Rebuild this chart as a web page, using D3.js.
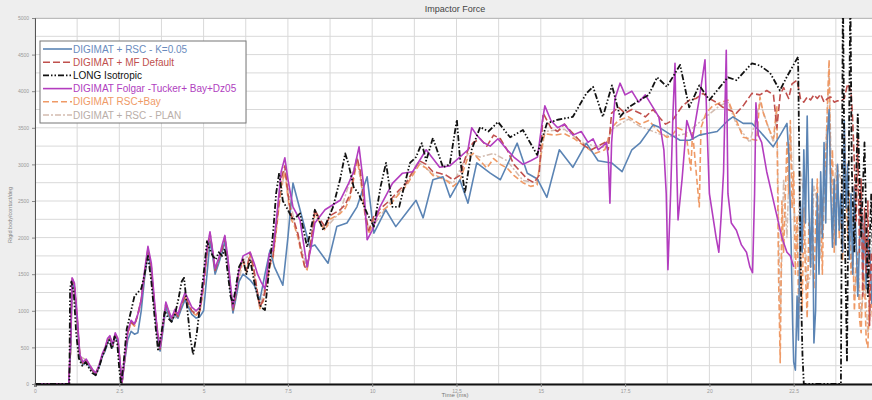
<!DOCTYPE html>
<html><head><meta charset="utf-8">
<script src="https://cdn.jsdelivr.net/npm/d3@7"></script>
<style>body{margin:0;background:#eeeeee}svg{display:block}</style>
</head><body>
<svg id="c" width="872" height="400"></svg>
<script>
const chartTitle = "Impactor Force";
const xTitle = "Time (ms)";
const yTitle = "Rigid body/contact/deg";
const xTicks = [0, 2.5, 5, 7.5, 10, 12.5, 15, 17.5, 20, 22.5];
const yTicks = [0, 500, 1000, 1500, 2000, 2500, 3000, 3500, 4000, 4500, 5000];
const seriesNames = ["DIGIMAT + RSC - K=0.05", "DIGIMAT + MF Default", "LONG Isotropic",
  "DIGIMAT Folgar -Tucker+ Bay+Dz05", "DIGIMAT RSC+Bay", "DIGIMAT + RSC - PLAN"];

const rscK005 = [[0,0],[1.0,0],[1.06,500],[1.1,1400],[1.17,1300],[1.25,850],[1.33,350],[1.42,260],[1.52,300],[1.62,230],[1.72,170],[1.8,120],[1.9,230],[2.0,380],[2.08,450],[2.15,560],[2.22,620],[2.3,500],[2.38,650],[2.46,580],[2.53,230],[2.58,10],[2.65,280],[2.75,600],[2.85,720],[2.95,680],[3.05,700],[3.15,1000],[3.25,1450],[3.35,1800],[3.45,1550],[3.55,1000],[3.63,650],[3.71,450],[3.8,750],[3.88,1050],[3.95,950],[4.05,850],[4.15,950],[4.24,900],[4.32,1000],[4.45,1150],[4.55,1050],[4.65,950],[4.78,900],[4.89,920],[5.0,1000],[5.1,1500],[5.19,1950],[5.27,1750],[5.34,1500],[5.45,1650],[5.55,1800],[5.63,1950],[5.72,1650],[5.8,1250],[5.87,970],[5.95,1150],[6.05,1400],[6.17,1500],[6.38,1420],[6.5,1350],[6.67,1150],[6.82,1500],[6.97,1830],[7.1,1600],[7.35,1350],[7.5,2000],[7.65,2745],[7.86,2380],[8.15,1870],[8.3,1900],[8.69,1650],[8.95,2150],[9.25,2200],[9.55,2420],[9.85,2830],[10.05,2060],[10.4,2380],[10.7,2150],[11.0,2330],[11.3,2510],[11.51,2270],[11.8,2790],[12.1,2830],[12.31,2550],[12.6,2790],[12.84,2470],[13.1,3020],[13.5,2880],[13.8,2790],[14.3,3290],[14.6,2880],[14.9,2800],[15.18,2550],[15.55,3200],[15.95,2960],[16.35,3290],[16.7,3050],[17.1,3020],[17.41,2900],[17.7,3200],[17.94,3290],[18.33,3540],[18.5,3510],[18.8,3420],[19.13,3330],[19.42,3330],[19.7,3400],[20.0,3430],[20.23,3450],[20.55,3600],[20.7,3650],[21.0,3560],[21.26,3560],[21.5,3450],[21.89,3240],[22.1,3400],[22.3,3560],[22.36,3100],[22.42,2000],[22.47,800],[22.5,300],[22.55,190],[22.6,1200],[22.64,600],[22.7,2500],[22.75,1800],[22.8,3200],[22.85,2200],[22.9,3660],[22.95,2400],[23.0,1600],[23.05,2800],[23.1,560],[23.15,1010],[23.2,2600],[23.25,1500],[23.3,2900],[23.35,2000],[23.4,3300],[23.45,2200],[23.5,3400],[23.55,3750],[23.6,2600],[23.65,1870],[23.7,2800],[23.75,1900],[23.8,3000],[23.85,2100],[23.9,2600],[23.95,1800],[24.0,3600],[24.05,2400],[24.1,3000],[24.15,1700],[24.2,2600],[24.25,1500],[24.3,2700],[24.35,2000],[24.4,1200],[24.45,1900],[24.5,2600],[24.55,1500],[24.6,2300],[24.65,1300],[24.7,2000],[24.76,1790],[24.82,1100],[24.9,1900],[25,1500]];

const mfDefault = [[0,0],[1.0,0],[1.05,500],[1.1,1450],[1.17,1350],[1.25,900],[1.33,380],[1.42,280],[1.52,330],[1.62,250],[1.72,180],[1.8,130],[1.9,250],[2.0,400],[2.08,480],[2.15,600],[2.22,650],[2.3,520],[2.38,680],[2.46,600],[2.53,250],[2.58,20],[2.65,300],[2.75,700],[2.85,850],[2.95,800],[3.05,950],[3.15,1150],[3.25,1500],[3.35,1850],[3.45,1600],[3.55,1050],[3.63,700],[3.71,480],[3.8,800],[3.88,1100],[3.95,1000],[4.05,880],[4.15,1000],[4.24,920],[4.32,1050],[4.45,1200],[4.55,1100],[4.65,1000],[4.78,950],[4.89,1000],[5.0,1350],[5.1,1800],[5.19,2060],[5.27,1800],[5.34,1550],[5.45,1700],[5.55,1850],[5.63,2010],[5.72,1700],[5.8,1300],[5.87,1000],[5.95,1200],[6.05,1550],[6.17,1700],[6.27,1550],[6.38,1800],[6.48,1600],[6.58,1300],[6.67,1050],[6.77,1150],[6.87,1400],[6.97,1650],[7.06,1750],[7.17,2200],[7.3,2800],[7.41,2980],[7.5,2600],[7.6,2300],[7.7,2200],[7.8,2050],[7.9,1800],[8.0,1600],[8.07,1580],[8.2,2000],[8.3,2380],[8.45,2250],[8.6,2150],[8.75,2300],[9.05,2380],[9.2,2450],[9.35,2600],[9.55,3100],[9.65,2900],[9.8,2300],[9.9,2100],[10.05,2300],[10.25,2400],[10.53,2510],[10.8,2650],[11.0,2740],[11.2,2900],[11.4,3050],[11.6,3000],[11.8,2900],[12.0,2880],[12.2,2850],[12.4,2790],[12.6,2850],[12.84,3200],[13.0,3300],[13.2,3350],[13.4,3250],[13.6,3400],[13.8,3350],[14.0,3200],[14.2,3000],[14.4,2900],[14.6,2800],[14.8,2750],[14.95,2850],[15.07,3700],[15.3,3500],[15.5,3450],[15.7,3550],[15.9,3450],[16.1,3350],[16.3,3250],[16.5,3200],[16.7,3250],[16.9,3300],[17.0,3200],[17.1,3700],[17.3,3780],[17.5,3700],[17.7,3750],[17.94,3700],[18.1,3650],[18.33,3750],[18.5,3650],[18.7,3550],[18.9,3600],[19.05,3700],[19.2,3800],[19.42,3880],[19.6,3900],[19.81,3970],[20.0,3900],[20.2,3850],[20.4,3780],[20.6,3740],[20.8,3700],[21.0,3800],[21.26,3970],[21.5,3950],[21.7,4010],[21.9,3950],[22.0,3500],[22.1,3950],[22.2,4050],[22.35,3900],[22.45,4100],[22.6,4150],[22.7,3900],[22.8,3850],[22.9,3920],[23.0,3880],[23.1,3950],[23.2,3900],[23.3,3960],[23.4,3850],[23.5,3900],[23.6,3920],[23.7,3850],[23.8,3870],[23.9,3860],[24.0,3900],[24.1,4100],[24.2,4000],[24.25,3600],[24.3,3000],[24.35,2200],[24.4,3400],[24.45,1800],[24.5,2800],[24.55,1200],[24.6,2400],[24.65,1500],[24.7,2500],[24.75,800],[24.8,1800],[24.9,1000],[25,2000]];

const longIso = [[0,0],[1.0,0],[1.02,0],[1.04,1300],[1.08,1400],[1.15,1250],[1.22,700],[1.3,350],[1.4,250],[1.5,300],[1.6,220],[1.7,150],[1.8,120],[1.9,230],[2.0,380],[2.1,500],[2.2,600],[2.28,480],[2.36,650],[2.44,550],[2.5,200],[2.55,0],[2.62,250],[2.72,750],[2.85,1000],[2.95,1200],[3.05,1250],[3.15,1300],[3.25,1500],[3.35,1750],[3.45,1400],[3.55,900],[3.65,450],[3.75,700],[3.85,1000],[3.95,900],[4.05,850],[4.15,950],[4.25,1150],[4.35,1400],[4.42,1450],[4.5,1100],[4.6,650],[4.69,400],[4.8,700],[4.9,1100],[5.0,1500],[5.1,1950],[5.17,1850],[5.27,1750],[5.36,1700],[5.45,1800],[5.55,1750],[5.63,1850],[5.72,1500],[5.8,1200],[5.87,1100],[5.95,1300],[6.05,1600],[6.17,1700],[6.27,1500],[6.38,1700],[6.5,1400],[6.6,1200],[6.7,1050],[6.82,1010],[6.95,1600],[7.06,2060],[7.15,2600],[7.24,2880],[7.35,2500],[7.5,2380],[7.65,2240],[7.86,2330],[8.07,1870],[8.3,2380],[8.55,2100],[8.84,2420],[9.05,2800],[9.2,3150],[9.3,3000],[9.45,2690],[9.6,2600],[9.85,2330],[10.05,2150],[10.25,2700],[10.41,3020],[10.6,2420],[10.8,2420],[11.12,3020],[11.3,3100],[11.47,3290],[11.6,3050],[11.8,3360],[12.1,2960],[12.3,3000],[12.51,3610],[12.6,3100],[12.75,2610],[12.95,3200],[13.2,3510],[13.45,3450],[13.73,3580],[14.09,3370],[14.47,3470],[14.89,3130],[15.18,3560],[15.5,3610],[15.95,3650],[16.35,3970],[16.55,4060],[16.84,3650],[17.11,4080],[17.35,3650],[17.6,3780],[17.94,3880],[18.2,3950],[18.45,4190],[18.74,4060],[19.13,4360],[19.4,3780],[19.7,4080],[20.0,3880],[20.55,4190],[20.8,4150],[21.26,4380],[21.5,4350],[21.8,4250],[22.09,4010],[22.3,4200],[22.63,4470],[22.68,2500],[22.72,1200],[22.76,400],[22.8,0],[23.9,0],[23.96,5400],[24.02,2000],[24.08,300],[24.18,5400],[24.22,3000],[24.3,1800],[24.4,3700],[24.5,2000],[24.6,3300],[24.7,1200],[24.8,2600],[24.9,800],[25,1500]];

const folgarTucker = [[0,0],[1.0,0],[1.06,600],[1.1,1450],[1.17,1380],[1.25,950],[1.33,400],[1.42,300],[1.52,340],[1.62,260],[1.72,190],[1.8,150],[1.9,260],[2.0,420],[2.08,500],[2.15,620],[2.22,660],[2.3,540],[2.38,700],[2.46,620],[2.53,260],[2.58,30],[2.65,320],[2.75,720],[2.85,870],[2.95,820],[3.05,950],[3.15,1150],[3.25,1550],[3.35,1880],[3.45,1650],[3.55,1100],[3.63,720],[3.71,500],[3.8,820],[3.88,1120],[3.95,1020],[4.05,900],[4.15,1020],[4.24,950],[4.32,1080],[4.45,1250],[4.55,1150],[4.65,1050],[4.78,1000],[4.89,1050],[5.0,1400],[5.1,1850],[5.19,2080],[5.27,1820],[5.34,1580],[5.45,1720],[5.55,1900],[5.63,2030],[5.72,1720],[5.8,1350],[5.87,1050],[5.95,1250],[6.05,1550],[6.17,1750],[6.38,1800],[6.5,1650],[6.6,1500],[6.7,1400],[6.82,1300],[6.95,1780],[7.06,1830],[7.17,2300],[7.3,2900],[7.41,3090],[7.5,2800],[7.65,2420],[7.86,2240],[8.07,1600],[8.2,1900],[8.3,2200],[8.6,2380],[9.05,2510],[9.3,2740],[9.45,2900],[9.61,3240],[9.75,2700],[9.85,1970],[10.0,2100],[10.23,2420],[10.6,2740],[10.9,2880],[11.2,2900],[11.6,3200],[12.0,2960],[12.3,2980],[12.6,3100],[12.84,3200],[12.95,3500],[13.1,3400],[13.3,3300],[13.5,3250],[13.73,3350],[14.0,3200],[14.2,3100],[14.47,3000],[14.7,3050],[14.9,3100],[15.05,3600],[15.12,3800],[15.3,3600],[15.5,3500],[15.7,3550],[15.95,3400],[16.2,3450],[16.4,3300],[16.55,3350],[16.7,3200],[16.84,3250],[16.95,3300],[17.0,3100],[17.05,2470],[17.1,3300],[17.2,3900],[17.35,4110],[17.5,3950],[17.7,4000],[17.9,3850],[18.1,3950],[18.3,3800],[18.5,3650],[18.65,3200],[18.72,2600],[18.77,1560],[18.85,2600],[18.92,3700],[18.98,4380],[19.03,3000],[19.07,2240],[19.19,2800],[19.33,3600],[19.5,3350],[19.7,3900],[19.87,4430],[19.93,3500],[20.0,2600],[20.1,2300],[20.2,2000],[20.28,1800],[20.35,2300],[20.42,2900],[20.5,4560],[20.55,2600],[20.65,2200],[20.8,2100],[20.95,1900],[21.1,1800],[21.2,1600],[21.28,1520],[21.34,2600],[21.38,3840],[21.45,3400],[21.55,3300],[21.7,2900],[21.85,2600],[22.0,2300],[22.15,2000],[22.3,1800],[22.4,1750],[22.5,1600]];

const rscBay = [[0,0],[1.0,0],[1.06,450],[1.1,1420],[1.17,1330],[1.25,880],[1.33,370],[1.42,290],[1.52,320],[1.62,240],[1.72,170],[1.8,140],[1.9,240],[2.0,390],[2.08,470],[2.15,590],[2.22,640],[2.3,510],[2.38,670],[2.46,590],[2.53,240],[2.58,15],[2.65,290],[2.75,690],[2.85,840],[2.95,790],[3.05,940],[3.15,1130],[3.25,1480],[3.35,1820],[3.45,1580],[3.55,1030],[3.63,690],[3.71,470],[3.8,790],[3.88,1080],[3.95,990],[4.05,870],[4.15,990],[4.24,910],[4.32,1040],[4.45,1180],[4.55,1080],[4.65,980],[4.78,940],[4.89,990],[5.0,1320],[5.1,1770],[5.19,2020],[5.27,1780],[5.34,1530],[5.45,1680],[5.55,1830],[5.63,1980],[5.72,1680],[5.8,1280],[5.87,990],[5.95,1180],[6.05,1520],[6.17,1680],[6.27,1530],[6.38,1760],[6.48,1580],[6.58,1280],[6.67,1030],[6.77,1130],[6.87,1380],[6.97,1620],[7.06,1720],[7.17,2150],[7.3,2700],[7.41,2900],[7.5,2550],[7.6,2250],[7.7,2150],[7.8,2000],[7.9,1780],[8.0,1600],[8.07,1560],[8.2,1950],[8.3,2330],[8.45,2200],[8.6,2100],[8.75,2250],[9.05,2330],[9.2,2400],[9.35,2550],[9.55,3050],[9.65,2850],[9.8,2250],[9.9,2050],[10.05,2250],[10.25,2350],[10.53,2450],[10.8,2600],[11.0,2700],[11.2,2850],[11.4,3000],[11.6,2950],[11.8,2850],[12.0,2820],[12.2,2780],[12.4,2700],[12.6,2780],[12.84,3100],[13.0,3150],[13.2,3050],[13.4,2950],[13.6,3080],[13.8,3000],[14.0,2950],[14.2,2850],[14.47,2750],[14.7,2700],[14.89,2720],[15.05,3300],[15.12,3420],[15.4,3400],[15.7,3420],[16.0,3350],[16.3,3250],[16.6,3150],[16.9,3200],[17.1,3500],[17.3,3600],[17.6,3650],[17.94,3550],[18.2,3600],[18.5,3450],[18.74,3370],[18.9,3400],[19.05,3500],[19.3,3450],[19.45,2920],[19.5,3450],[19.7,2420],[19.75,3500],[19.9,3700],[20.1,3800],[20.3,3840],[20.55,3880],[20.8,3600],[21.0,3370],[21.2,3350],[21.4,3330],[21.5,3920],[21.6,3700],[21.75,3500],[21.9,3350],[22.0,3800],[22.05,1500],[22.1,290],[22.15,2500],[22.2,1800],[22.3,3300],[22.35,2600],[22.4,3600],[22.45,2400],[22.5,2900],[22.55,1500],[22.6,2300],[22.65,900],[22.7,1800],[22.75,1000],[22.8,2400],[22.85,1500],[22.9,900],[22.95,2200],[23.0,1600],[23.05,2600],[23.1,1300],[23.15,2200],[23.2,2800],[23.25,1800],[23.3,2500],[23.35,1500],[23.4,2700],[23.45,3000],[23.5,3800],[23.55,4430],[23.6,2600],[23.65,3200],[23.7,1800],[23.75,2600],[23.8,3000],[23.85,2000],[23.9,2500],[23.95,1700],[24.0,3500],[24.05,2800],[24.1,2000],[24.15,2600],[24.2,1500],[24.25,1900],[24.3,1000],[24.35,1600],[24.4,1800],[24.45,900],[24.5,700],[24.55,1500],[24.6,1400],[24.65,600],[24.7,500],[24.75,1300],[24.8,1200],[24.9,400],[25,800]];

const rscPlan = [[0,0],[1.0,0],[1.06,480],[1.1,1430],[1.25,900],[1.33,380],[1.52,330],[1.8,140],[2.08,470],[2.22,640],[2.3,520],[2.38,670],[2.46,600],[2.58,20],[2.75,700],[2.85,850],[2.95,800],[3.15,1140],[3.35,1830],[3.55,1040],[3.71,480],[3.88,1090],[4.05,880],[4.24,920],[4.45,1190],[4.65,990],[4.89,1000],[5.19,2030],[5.34,1540],[5.63,1990],[5.87,1000],[6.17,1690],[6.38,1770],[6.67,1040],[6.97,1630],[7.41,2940],[7.7,2180],[8.07,1570],[8.3,2350],[8.6,2120],[9.05,2350],[9.55,3080],[9.9,2080],[10.53,2480],[11.0,2720],[11.4,3020],[11.8,2870],[12.4,2740],[12.84,3150],[13.2,3100],[13.6,3150],[14.0,3050],[14.47,2780],[14.89,2750],[15.12,3450],[15.7,3480],[16.3,3280],[16.9,3230],[17.1,3480],[17.6,3620],[17.94,3520],[18.5,3420],[18.9,3380],[19.3,3420],[19.9,3650],[20.3,3800],[20.55,3850],[20.8,3550],[21.2,3300],[21.5,3850],[21.9,3300],[22.0,3700],[22.1,800],[22.2,2800],[22.3,2000],[22.4,3500],[22.5,2500],[22.6,1800],[22.7,2900],[22.8,2600],[22.9,1300],[23.0,1500],[23.1,2700],[23.2,2500],[23.3,1700],[23.45,3200],[23.55,4300],[23.65,2200],[23.75,3000],[23.9,2800],[24.0,1900],[24.1,1800],[24.2,2600],[24.3,1200],[24.4,1700],[24.5,900],[24.6,1500],[24.7,700],[24.85,1300],[25,1000]];

const seriesData = [rscK005, mfDefault, longIso, folgarTucker, rscBay, rscPlan];
const styles = [
  {color:"#5b84b4", dash:null, w:1.6, text:"#6a8bbd"},
  {color:"#c0504d", dash:"7,3", w:1.6, text:"#c0504d"},
  {color:"#111111", dash:"6,2,1.5,2,1.5,2", w:1.8, text:"#111111"},
  {color:"#b33dbf", dash:null, w:1.6, text:"#b040c0"},
  {color:"#ef9a66", dash:"6,3", w:1.6, text:"#ef9a66"},
  {color:"#d3bcb0", dash:"6,2,2,2", w:1.5, text:"#b9aea8"}
];
const drawOrder = [5, 4, 0, 1, 3, 2];

const svg = d3.select("#c");
const L = 35, T = 18, R = 878, B = 384;
const x = d3.scaleLinear().domain([0, 25]).range([L, R]);
const y = d3.scaleLinear().domain([0, 5000]).range([B, T]);

svg.append("rect").attr("width", 872).attr("height", 400).attr("fill", "#eeeeee");
svg.append("rect").attr("x", L).attr("y", T).attr("width", R - L).attr("height", B - T).attr("fill", "#ffffff");

const gx = d3.range(0, 25.01, 1.25), gy = d3.range(0, 5001, 250);
svg.append("g").selectAll("line").data(gx).join("line")
  .attr("x1", d => x(d)).attr("x2", d => x(d)).attr("y1", T).attr("y2", B)
  .attr("stroke", "#d9d9d9").attr("stroke-width", 1);
svg.append("g").selectAll("line").data(gy).join("line")
  .attr("y1", d => y(d)).attr("y2", d => y(d)).attr("x1", L).attr("x2", R)
  .attr("stroke", "#d9d9d9").attr("stroke-width", 1);
svg.append("line").attr("x1", L).attr("x2", R).attr("y1", T + 0.5).attr("y2", T + 0.5).attr("stroke", "#bbbbbb");

svg.append("text").attr("x", 455).attr("y", 12).attr("text-anchor", "middle")
  .attr("font-family", "Liberation Sans, Arial, sans-serif").attr("font-size", 9).attr("fill", "#444").text(chartTitle);

svg.append("clipPath").attr("id", "clip").append("rect").attr("x", L).attr("y", T).attr("width", R - L).attr("height", B - T);

const line = d3.line().x(d => x(d[0])).y(d => y(d[1]));
const gLines = svg.append("g").attr("clip-path", "url(#clip)");
drawOrder.forEach(i => {
  const p = gLines.append("path").datum(seriesData[i]).attr("d", line)
    .attr("fill", "none").attr("stroke", styles[i].color).attr("stroke-width", styles[i].w)
    .attr("stroke-linejoin", "round");
  if (styles[i].dash) p.attr("stroke-dasharray", styles[i].dash);
});

const xa = svg.append("g").attr("transform", `translate(0,${B})`)
  .call(d3.axisBottom(x).tickValues(xTicks).tickSize(3).tickFormat(d => String(d)));
xa.select(".domain").attr("stroke", "#111").attr("stroke-width", 2);
xa.selectAll("text").attr("font-size", 5).attr("fill", "#999").attr("font-family", "Liberation Sans, Arial, sans-serif").attr("dy", "0.5em");
xa.selectAll(".tick line").attr("stroke", "#888");

const ya = svg.append("g").attr("transform", `translate(${L},0)`)
  .call(d3.axisLeft(y).tickValues(yTicks).tickSize(3).tickFormat(d => String(d)));
ya.select(".domain").attr("stroke", "#555").attr("stroke-width", 1);
ya.selectAll("text").attr("font-size", 5).attr("fill", "#999").attr("font-family", "Liberation Sans, Arial, sans-serif");
ya.selectAll(".tick line").attr("stroke", "#888");

svg.append("text").attr("x", 455).attr("y", 397).attr("text-anchor", "middle")
  .attr("font-family", "Liberation Sans, Arial, sans-serif").attr("font-size", 6).attr("fill", "#777").text(xTitle);
svg.append("text").attr("transform", "translate(12,215) rotate(-90)").attr("text-anchor", "middle")
  .attr("font-family", "Liberation Sans, Arial, sans-serif").attr("font-size", 5.5).attr("fill", "#888").text(yTitle);

const lg = svg.append("g");
lg.append("rect").attr("x", 40).attr("y", 41).attr("width", 206).attr("height", 82)
  .attr("fill", "#ffffff").attr("stroke", "#777").attr("stroke-width", 1);
seriesNames.forEach((n, i) => {
  const yy = 49 + i * 13.2;
  const l = lg.append("line").attr("x1", 43).attr("x2", 72).attr("y1", yy).attr("y2", yy)
    .attr("stroke", styles[i].color).attr("stroke-width", styles[i].w);
  if (styles[i].dash) l.attr("stroke-dasharray", styles[i].dash);
  lg.append("text").attr("x", 73).attr("y", yy + 3.5).attr("font-size", 10)
    .attr("font-family", "Liberation Sans, Arial, sans-serif").attr("fill", styles[i].text).text(n);
});
</script>
</body></html>
